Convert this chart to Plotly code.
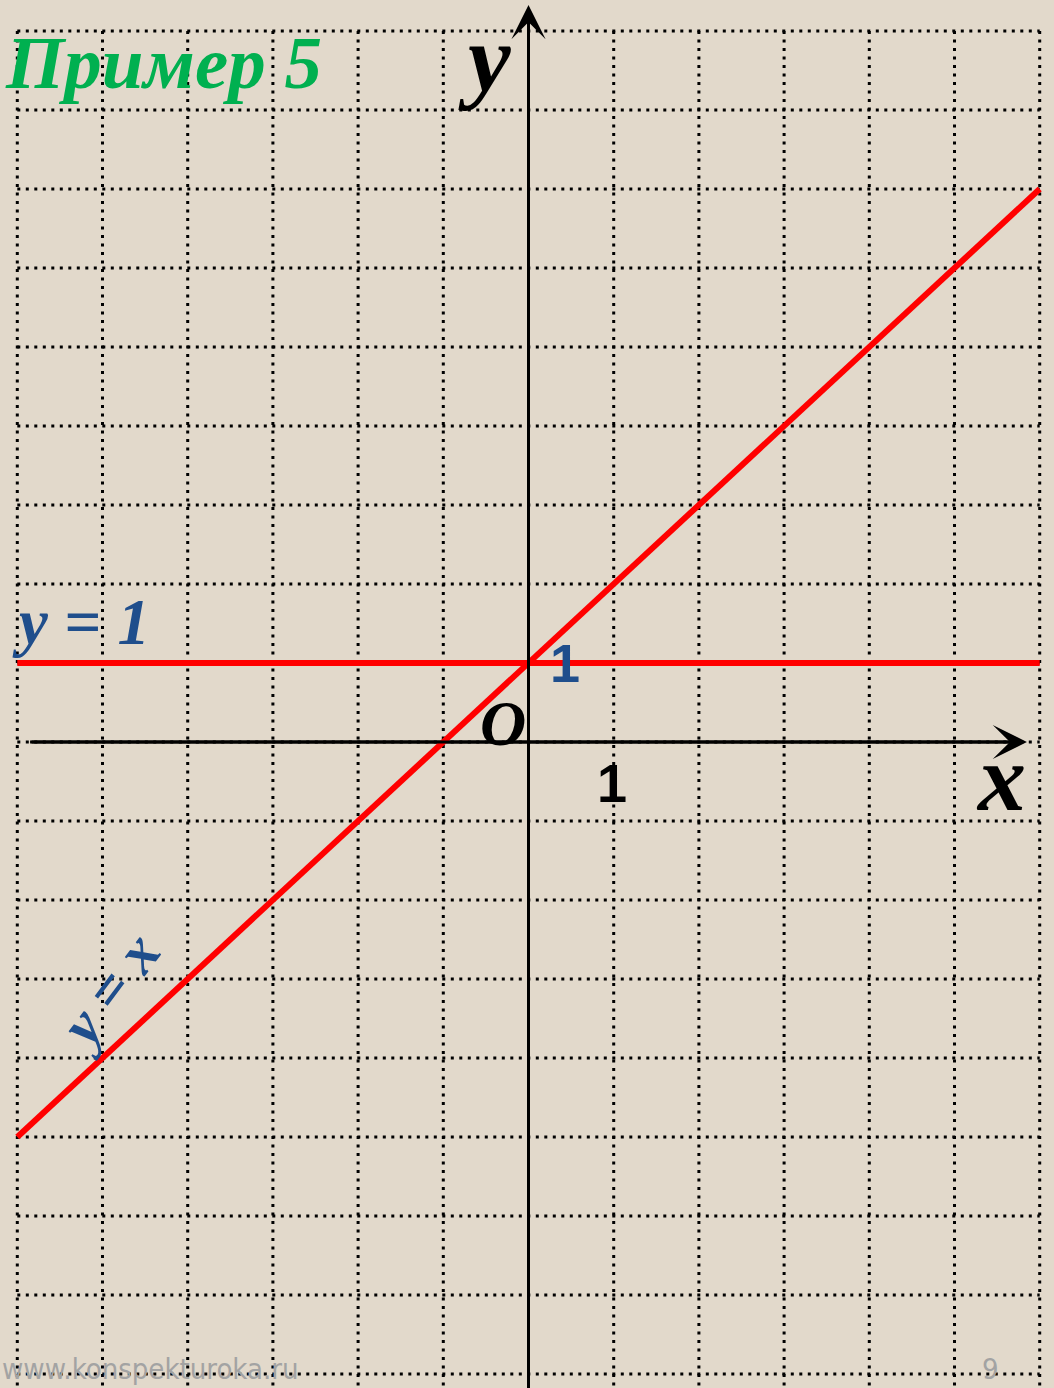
import plotly.graph_objects as go

# grid nodes (units)
x_grid = list(range(-6, 7))
y_grid = list(range(-8, 10))

# red lines
line_x = [-6, 6]
line_yx = [-5, 7]      # the diagonal labelled "y = x"
line_y1 = [1, 1]       # horizontal line y = 1

# axes extents
x_axis = [-5.85, 5.85]
y_axis = [-8.4, 9.33]

bg = '#e2d9cb'
blue = '#1f4e8c'
serif = 'Liberation Serif'

fig = go.Figure()

fig.add_trace(go.Scatter(x=line_x, y=line_y1, mode='lines',
                         line=dict(color='#ff0000', width=6), hoverinfo='skip'))
fig.add_trace(go.Scatter(x=line_x, y=line_yx, mode='lines',
                         line=dict(color='#ff0000', width=6), hoverinfo='skip'))

# dotted grid
dots = dict(color='black', width=3, dash='3px,5.5px')
for gx in x_grid:
    fig.add_shape(type='line', x0=gx, x1=gx, y0=y_grid[-1], y1=-8.4,
                  line=dots, layer='below')
for gy in y_grid:
    fig.add_shape(type='line', x0=x_grid[0], x1=x_grid[-1], y0=gy, y1=gy,
                  line=dots, layer='below')

# axes with arrows
fig.add_shape(type='line', x0=x_axis[0], x1=x_axis[1] - 0.2, y0=0, y1=0,
              line=dict(color='black', width=3), layer='below')
fig.add_shape(type='line', x0=0, x1=0, y0=y_axis[0], y1=y_axis[1] - 0.2,
              line=dict(color='black', width=3), layer='below')
fig.add_annotation(x=x_axis[1], y=0, ax=x_axis[0], ay=0, axref='x', ayref='y',
                   text='', showarrow=True, arrowhead=3, arrowsize=1.9,
                   arrowwidth=3, arrowcolor='black')
fig.add_annotation(x=0, y=y_axis[1], ax=0, ay=y_axis[0], axref='x', ayref='y',
                   text='', showarrow=True, arrowhead=3, arrowsize=1.9,
                   arrowwidth=3, arrowcolor='black')


def label(text, x, y, size, color='black', family=serif, italic=True, bold=True, angle=0):
    fig.add_annotation(x=x, y=y, text=text, showarrow=False, textangle=angle,
                       font=dict(family=family, size=size, color=color,
                                 style='italic' if italic else 'normal',
                                 weight='bold' if bold else 'normal'))


label('Пример 5', -4.28, 8.6, 75, color='#00b050')
label('y', -0.52, 8.65, 96)
label('x', 5.55, -0.45, 96)
label('O', -0.30, 0.24, 64)
label('1', 0.98, -0.52, 54, family='Liberation Sans', italic=False)
label('1', 0.43, 1.0, 54, color=blue, family='Liberation Sans', italic=False)
label('y = 1', -5.25, 1.52, 65, color=blue)
label('y = x', -4.93, -3.15, 60, color=blue, angle=-53)

fig.add_annotation(x=0, y=0, xref='paper', yref='paper', xanchor='left', yanchor='bottom',
                   text='www.konspekturoka.ru', showarrow=False,
                   font=dict(family='DejaVu Sans Condensed', size=29, color='#a3a3a3'))
fig.add_annotation(x=990 / 1054, y=0, xref='paper', yref='paper', xanchor='center', yanchor='bottom',
                   text='9', showarrow=False,
                   font=dict(family='DejaVu Sans Condensed', size=29, color='#a3a3a3'))

fig.update_xaxes(range=[-528.5 / 85.2, (1054 - 528.5) / 85.2], showgrid=False,
                 zeroline=False, showticklabels=False, ticks='', showline=False)
fig.update_yaxes(range=[-(1388 - 742) / 79, 742 / 79], showgrid=False,
                 zeroline=False, showticklabels=False, ticks='', showline=False)
fig.update_layout(width=1054, height=1388, margin=dict(l=0, r=0, t=0, b=0),
                  paper_bgcolor=bg, plot_bgcolor=bg, showlegend=False)

fig.write_html('out.html', config={'displayModeBar': False},
               post_script="document.body.style.margin='0';document.body.style.background='" + bg + "';")
